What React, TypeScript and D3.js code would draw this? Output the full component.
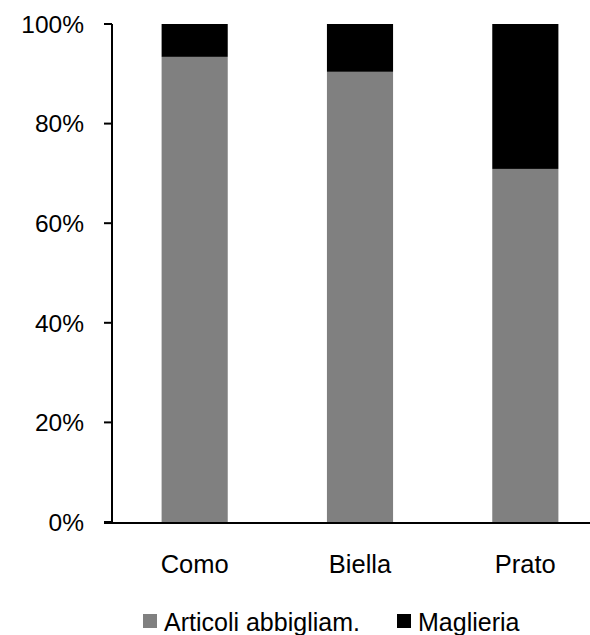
import React from "react";
import * as d3 from "d3";

const categories = ["Como", "Biella", "Prato"];
const seriesNames = ["Articoli abbigliam.", "Maglieria"];
const articoli = [93.4, 90.4, 70.9];
const maglieria = [6.6, 9.6, 29.1];
const yTicks = [0, 20, 40, 60, 80, 100];
const colors = ["#808080", "#000000"];

export default function App() {
  const width = 590, height = 635;
  const left = 112, right = 608, top = 24, bottom = 522;
  const x = d3.scaleBand().domain(categories).range([left, right]).paddingInner(0.6).paddingOuter(0.3);
  const y = d3.scaleLinear().domain([0, 100]).range([bottom, top]);
  const rows = categories.map((c, i) => ({ cat: c, a: articoli[i], m: maglieria[i] }));
  const stack = d3.stack<any>().keys(["a", "m"])(rows);
  const font = "Arial, 'Liberation Sans', sans-serif";
  return (
    <svg width={width} height={height} style={{ position: "absolute", left: 0, top: 0 }}>
      <rect width={width} height={height} fill="#fff" />
      {stack.map((s, si) =>
        s.map((d, i) => (
          <rect key={si + "-" + i} x={x(categories[i])} width={x.bandwidth()} y={y(d[1])} height={y(d[0]) - y(d[1])} fill={colors[si]} />
        ))
      )}
      <line x1={left} x2={left} y1={top} y2={bottom + 1} stroke="#000" strokeWidth={2} />
      <line x1={104} x2={width} y1={bottom + 1} y2={bottom + 1} stroke="#000" strokeWidth={2} />
      {yTicks.map((t) => (
        <g key={t}>
          <line x1={104} x2={left} y1={y(t)} y2={y(t)} stroke="#000" strokeWidth={2} />
          <text x={84} y={y(t)} dy="0.36em" textAnchor="end" fontFamily={font} fontSize={24.5} fill="#000">{t}%</text>
        </g>
      ))}
      {categories.map((c) => (
        <text key={c} x={(x(c) as number) + x.bandwidth() / 2} y={573} textAnchor="middle" fontFamily={font} fontSize={25.5} fill="#000">{c}</text>
      ))}
      {seriesNames.map((n, i) => {
        const lx = [143, 397][i];
        return (
          <g key={n}>
            <rect x={lx} y={614} width={14} height={14} fill={colors[i]} />
            <text x={[164, 418][i]} y={631} fontFamily={font} fontSize={25} fill="#000">{n}</text>
          </g>
        );
      })}
    </svg>
  );
}
